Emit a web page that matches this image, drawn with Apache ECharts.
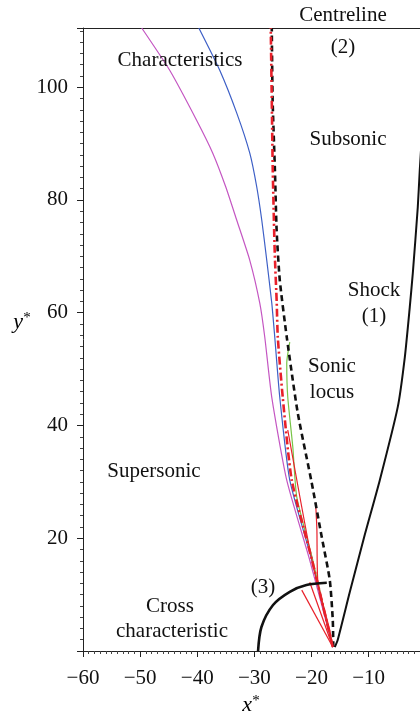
<!DOCTYPE html>
<html>
<head>
<meta charset="utf-8">
<script src="https://cdn.jsdelivr.net/npm/echarts@6/dist/echarts.min.js"></script>
<style>
html,body{margin:0;padding:0;background:#fff;}
#chart{width:420px;height:719px;}
</style>
</head>
<body>
<div id="chart"></div>
<script>
// Axis settings / tick labels
var xTicks = [-60, -50, -40, -30, -20, -10];
var yTicks = [20, 40, 60, 80, 100];

// Curves: [x*, y*] pairs
var shock = [[-15.92,0.7],[-15.41,1.95],[-13.29,10.46],[-10.67,20.6],[-8.04,30.3],[-4.89,43.3],[-3.66,52.1],[-2.79,61.0],[-2.26,67.0],[-1.39,78.7],[-1.04,85.3],[-0.5,94]];
var sonicLocus = [[-16.18,0.7],[-16.27,5.5],[-16.8,12.6],[-18.2,20.2],[-19.95,29.8],[-22.4,42.2],[-24.33,55.7],[-25.55,65.8],[-26.1,74.6],[-26.4,85.3],[-26.8,97.7],[-26.95,110.5]];
var centreline = [[-16.27,0.7],[-19.9,16.1],[-23.45,30.3],[-25.03,45.0],[-25.9,55.7],[-26.08,61.7],[-26.43,70.6],[-26.78,85.3],[-26.95,97.7],[-27.13,110.5]];
var charBlue = [[-16.27,0.7],[-19.95,16.1],[-23.8,30.3],[-25.55,45.0],[-26.43,55.7],[-26.95,61.7],[-27.83,69.3],[-28.7,76.4],[-29.58,82.3],[-30.8,88.3],[-33.08,95.4],[-36.06,103.0],[-39.72,110.5]];
var charMagenta = [[-16.27,0.7],[-20.3,16.1],[-24.33,30.3],[-26.95,45.0],[-28.18,55.7],[-29.05,61.7],[-30.8,69.3],[-33.08,76.4],[-35.0,82.3],[-37.28,88.3],[-40.09,94.1],[-44.82,103.0],[-49.72,110.5]];
var charGreen = [[-16.27,0.7],[-19.77,16.1],[-22.57,27.3],[-23.27,36.2],[-24.15,45.0],[-24.33,51.1],[-23.8,54.8]];
var redA = [[-16.27,0.7],[-16.8,3.7],[-18.9,12.6],[-19.05,21.5],[-19.23,25.35]];
var redB = [[-16.27,0.7],[-21.7,10.8]];
var redC = [[-16.27,0.7],[-20.3,12.2]];
var redD = [[-16.27,0.7],[-20.0,16.5],[-24.15,39.2]];
var crossChar = [[-29.35,0],[-28.76,4.26],[-26.73,8.16],[-23.8,10.5],[-20.88,11.7],[-17.32,12.1]];

var RED = '#e8202a', BLUE = '#3d5fc6', MAG = '#c456c2', GREEN = '#78c448';
var FONT = 'Liberation Serif';

function minusFmt(v){ return (v < 0 ? '\u2212' + Math.abs(v) : String(v)); }

function line(data, color, width, type, smooth, z){
  return {type:'line', data:data, showSymbol:false, symbol:'none', smooth:smooth, clip:true,
    lineStyle:{color:color, width:width, type:type}, z:z||2, silent:true, animation:false};
}

var chart = echarts.init(document.getElementById('chart'), null, {renderer:'canvas'});

function txt(s, x, y){
  return {type:'text', x:x, y:y, style:{text:s, fill:'#111', font:'21px "' + FONT + '"', textAlign:'center', textVerticalAlign:'middle'}, z:10};
}

var nameRich = {i:{fontFamily:FONT, fontStyle:'italic', fontSize:22, color:'#111'}, s:{fontFamily:FONT, fontSize:15, color:'#111', verticalAlign:'top', padding:[0,0,6,0]}};

chart.setOption({
  animation:false,
  backgroundColor:'#fff',
  grid:{left:83, right:0, top:28, bottom:68, containLabel:false, outerBoundsMode:'none'},
  xAxis:[{
    type:'value', min:-60, max:-1, interval:10,
    axisLine:{show:true, onZero:false, lineStyle:{color:'#222', width:1}},
    axisTick:{show:true, length:6, lineStyle:{color:'#222'}},
    minorTick:{show:true, splitNumber:10, length:3, lineStyle:{color:'#444'}},
    splitLine:{show:false}, minorSplitLine:{show:false},
    axisLabel:{show:true, showMaxLabel:false, color:'#111', fontFamily:FONT, fontSize:21, margin:17,
      formatter:function(v){ return xTicks.indexOf(v) >= 0 ? minusFmt(v) : ''; }}
  },{
    type:'value', position:'top', min:-60, max:-1,
    axisLine:{show:true, onZero:false, lineStyle:{color:'#222', width:1}},
    axisTick:{show:false}, axisLabel:{show:false}, splitLine:{show:false}
  }],
  yAxis:{
    type:'value', min:0, max:110.5, interval:20,
    axisLine:{show:true, onZero:false, lineStyle:{color:'#222', width:1}},
    axisTick:{show:true, length:6, lineStyle:{color:'#222'}},
    minorTick:{show:true, splitNumber:10, length:3, lineStyle:{color:'#444'}},
    splitLine:{show:false},
    axisLabel:{show:true, showMinLabel:false, showMaxLabel:false, color:'#111', fontFamily:FONT, fontSize:21, margin:15,
      formatter:function(v){ return yTicks.indexOf(v) >= 0 ? String(v) : ''; }}
  },
  series:[
    line(charMagenta, MAG, 1.2, 'solid', 0.2, 2),
    line(charBlue, BLUE, 1.2, 'solid', 0.2, 3),
    line(charGreen, GREEN, 1.2, 'solid', 0.2, 3),
    line(redD, RED, 1.2, 'solid', 0.2, 4),
    line(redA, RED, 1.2, 'solid', 0.2, 4),
    line(redB, RED, 1.2, 'solid', false, 4),
    line(redC, RED, 1.2, 'solid', false, 4),
    line(sonicLocus, '#111', 2.6, [6,4], 0.2, 5),
    line(centreline, RED, 2.6, [8,3,2,3], 0.2, 6),
    line(shock, '#111', 2, 'solid', 0.2, 6),
    line(crossChar, '#111', 2.6, 'solid', 0.3, 6)
  ],
  graphic:[
    {type:'text', x:22, y:322, z:10, style:{text:'{i|y}{s|*}', rich:nameRich, textAlign:'center', textVerticalAlign:'middle'}},
    {type:'text', x:251, y:705, z:10, style:{text:'{i|x}{s|*}', rich:nameRich, textAlign:'center', textVerticalAlign:'middle'}},
    txt('Centreline', 343, 15),
    txt('(2)', 343, 47),
    txt('Characteristics', 180, 60),
    txt('Subsonic', 348, 139),
    txt('Shock', 374, 290),
    txt('(1)', 374, 316),
    txt('Sonic', 332, 366),
    txt('locus', 332, 392),
    txt('Supersonic', 154, 471),
    txt('(3)', 263, 587),
    txt('Cross', 170, 606),
    txt('characteristic', 172, 631)
  ]
});
</script>
</body>
</html>
